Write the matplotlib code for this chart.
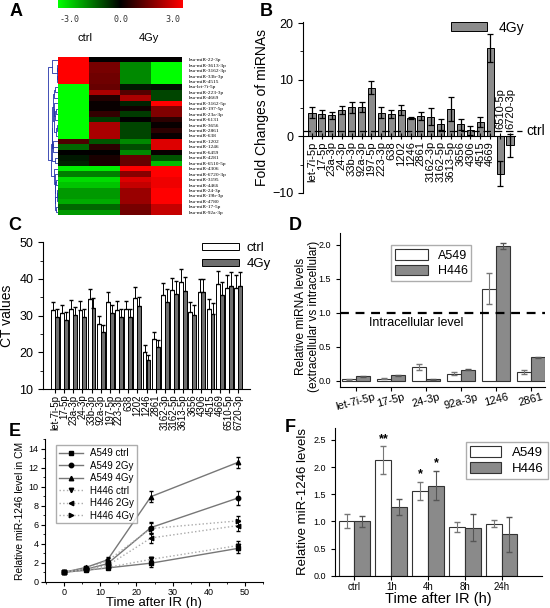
import numpy as np
import matplotlib
matplotlib.use("Agg")
import matplotlib.pyplot as plt
from matplotlib.colors import LinearSegmentedColormap
from matplotlib.lines import Line2D
from matplotlib.ticker import MultipleLocator

plt.rcParams['font.family'] = ['Liberation Sans', 'DejaVu Sans']

# ---------------- data ----------------
# A: heatmap (log2 fold, columns: ctrl, ctrl, 4Gy, 4Gy)
heat_rows = ['hsa-miR-22-3p', 'hsa-miR-3613-3p', 'hsa-miR-3162-3p', 'hsa-miR-33b-3p',
             'hsa-miR-4515', 'hsa-let-7i-5p', 'hsa-miR-223-3p', 'hsa-miR-4669',
             'hsa-miR-3162-5p', 'hsa-miR-197-5p', 'hsa-miR-23a-3p', 'hsa-miR-6131',
             'hsa-miR-3656', 'hsa-miR-2861', 'hsa-miR-638', 'hsa-miR-1202',
             'hsa-miR-1246', 'hsa-miR-6459', 'hsa-miR-4281', 'hsa-miR-6510-5p',
             'hsa-miR-4306', 'hsa-miR-6720-3p', 'hsa-miR-3195', 'hsa-miR-4466',
             'hsa-miR-24-3p', 'hsa-miR-19b-3p', 'hsa-miR-4780', 'hsa-miR-17-5p',
             'hsa-miR-92a-3p']
heat_vals = np.array([
    [3.0, 0.0, 0.0, 0.0],
    [3.0, 1.4, -1.6, -3.0],
    [3.0, 1.4, -1.6, -3.0],
    [3.0, 1.3, -1.6, -3.0],
    [3.0, 1.3, -1.6, -3.0],
    [-3.0, 1.2, -0.3, -0.2],
    [-3.0, 2.0, 1.0, -0.8],
    [-3.0, 0.4, 2.0, -0.8],
    [-3.0, 0.1, -0.4, 3.0],
    [-3.0, 0.1, 0.2, 1.5],
    [-3.0, 0.6, -0.7, 1.5],
    [-3.0, -0.7, 0.0, 0.5],
    [-3.0, 2.0, -0.8, 0.1],
    [-3.0, 2.0, -0.8, 0.5],
    [-3.0, 2.0, -0.8, 0.1],
    [0.9, -1.0, -1.6, 2.6],
    [-1.2, 0.5, -0.9, 2.6],
    [0.0, 0.0, -1.6, 0.1],
    [-0.3, 0.3, 1.2, -1.0],
    [-0.4, 0.3, 1.2, -2.2],
    [-2.8, -2.8, 3.0, 3.0],
    [-1.5, -1.5, 1.6, 3.0],
    [-2.6, -2.6, 2.6, 2.8],
    [-2.3, -2.3, 2.3, 2.8],
    [-1.8, -1.8, 1.8, 3.0],
    [-1.8, -1.8, 1.8, 3.0],
    [-2.0, -2.0, 1.8, 3.0],
    [-1.2, -1.2, 1.4, 2.3],
    [-1.8, -1.8, 1.3, 2.3],
])

# B: fold changes (4Gy vs ctrl)
b_labels = ['let-7i-5p', '17-5p', '23a-3p', '24-3p', '33b-3p', '92a-3p', '197-5p',
            '223-3p', '638', '1202', '1246', '2861', '3162-3p', '3162-5p', '3613-5p',
            '3656', '4306', '4515', '4669', '6510-5p', '6720-3p']
b_vals = [4.2, 3.9, 3.7, 4.6, 5.1, 5.2, 8.6, 4.2, 3.9, 4.7, 3.2, 3.6, 3.5, 2.1, 4.8,
          2.1, 1.1, 2.6, 15.6, -6.6, -1.6]
b_err = [0.9, 0.7, 0.6, 0.7, 1.0, 0.9, 1.2, 0.9, 0.7, 0.9, 0.2, 0.7, 1.5, 1.0, 2.1,
         0.9, 0.8, 0.9, 2.5, 2.2, 2.0]

# C: CT values
c_labels = b_labels
c_ctrl = [31.5, 30.6, 31.8, 31.5, 34.5, 27.7, 33.7, 31.5, 31.7, 34.9, 20.2, 23.5,
          35.6, 37.0, 39.1, 31.0, 36.5, 31.8, 38.5, 37.5, 37.6]
c_4gy = [29.7, 28.9, 30.2, 29.5, 32.2, 25.5, 30.6, 29.5, 29.5, 32.6, 17.8, 21.5,
         33.8, 35.8, 36.8, 30.1, 36.4, 30.4, 35.6, 38.2, 38.2]
c_err_ctrl = [2.3, 2.2, 2.4, 2.4, 2.8, 2.2, 2.7, 2.5, 2.4, 2.8, 1.7, 2.0,
              3.2, 3.4, 3.6, 2.8, 3.4, 2.8, 3.6, 3.6, 3.5]
c_err_4gy = [2.2, 2.0, 2.2, 2.2, 2.6, 2.0, 2.4, 2.3, 2.3, 2.5, 1.6, 1.8,
             3.4, 3.6, 3.8, 2.8, 3.6, 3.0, 3.6, 3.8, 3.8]

# D: extracellular / intracellular
d_labels = ['let-7i-5p', '17-5p', '24-3p', '92a-3p', '1246', '2861']
d_a549 = [0.02, 0.03, 0.20, 0.10, 1.35, 0.12]
d_a549_err = [0.01, 0.01, 0.04, 0.02, 0.23, 0.03]
d_h446 = [0.06, 0.075, 0.02, 0.16, 1.98, 0.34]
d_h446_err = [0.005, 0.005, 0.005, 0.005, 0.05, 0.01]

# E: time course
e_time = [0, 6, 12, 24, 48]
e_series = {
    'A549 ctrl': [1.0, 1.2, 1.45, 1.95, 3.5],
    'A549 2Gy': [1.0, 1.3, 1.9, 5.7, 8.8],
    'A549 4Gy': [1.0, 1.5, 2.3, 8.95, 12.55],
    'H446 ctrl': [1.0, 1.2, 1.5, 2.35, 3.8],
    'H446 2Gy': [1.0, 1.3, 1.7, 4.6, 5.9],
    'H446 4Gy': [1.0, 1.4, 2.2, 5.6, 6.4],
}
e_errs = {
    'A549 ctrl': [0.05, 0.1, 0.15, 0.35, 0.5],
    'A549 2Gy': [0.05, 0.15, 0.2, 0.6, 0.7],
    'A549 4Gy': [0.05, 0.2, 0.3, 0.55, 0.6],
    'H446 ctrl': [0.05, 0.1, 0.15, 0.3, 0.5],
    'H446 2Gy': [0.05, 0.1, 0.2, 0.5, 0.6],
    'H446 4Gy': [0.05, 0.15, 0.25, 0.6, 0.55],
}

# F: miR-1246 after IR
f_labels = ['ctrl', '1h', '4h', '8h', '24h']
f_a549 = [1.0, 2.13, 1.56, 0.89, 0.96]
f_a549_err = [0.13, 0.25, 0.17, 0.09, 0.06]
f_h446 = [1.0, 1.27, 1.66, 0.88, 0.76]
f_h446_err = [0.1, 0.15, 0.27, 0.25, 0.32]
f_a549_sig = ['', '**', '*', '', '']
f_h446_sig = ['', '', '*', '', '']

W, H = 550, 608
fig = plt.figure(figsize=(W / 100, H / 100), dpi=100)


def box(x0, y0, x1, y1):
    # pixel box -> figure fraction rect
    return [x0 / W, 1 - y1 / H, (x1 - x0) / W, (y1 - y0) / H]


# ---------------- A ----------------
gbr = LinearSegmentedColormap.from_list('gbr', ['#00ff00', '#000000', '#ff0000'])
axA = fig.add_axes(box(58, 57, 182, 215))
axA.imshow(heat_vals, cmap=gbr, vmin=-3, vmax=3, aspect='auto', interpolation='nearest')
axA.set_xticks([])
axA.set_yticks(range(len(heat_rows)))
axA.set_yticklabels(heat_rows, fontsize=3.9, family='Liberation Serif')
axA.yaxis.tick_right()
axA.tick_params(axis='y', length=0, pad=5)
for s in axA.spines.values():
    s.set_visible(False)
axA.text(0.22, 1.1, 'ctrl', transform=axA.transAxes, ha='center', fontsize=8)
axA.text(0.73, 1.1, '4Gy', transform=axA.transAxes, ha='center', fontsize=8)

axCb = fig.add_axes(box(58, 0, 183, 8))
axCb.imshow(np.linspace(-3, 3, 200)[None, :], cmap=gbr, aspect='auto', vmin=-3, vmax=3)
axCb.set_xticks([])
axCb.set_yticks([])
for s in axCb.spines.values():
    s.set_visible(False)
for xf, t in [(0.09, '-3.0'), (0.5, '0.0'), (0.92, '3.0')]:
    axCb.text(xf, -1.4, t, transform=axCb.transAxes, ha='center', va='center',
              fontsize=6, family='DejaVu Sans Mono', color='#333333')

# dendrogram: adjacent merging on the row order
axDen = fig.add_axes(box(47, 57, 58, 215))
clusters = [([i], float(i), 0.0) for i in range(len(heat_vals))]
while len(clusters) > 1:
    d = [np.linalg.norm(heat_vals[a[0]].mean(0) - heat_vals[b[0]].mean(0))
         for a, b in zip(clusters[:-1], clusters[1:])]
    k = int(np.argmin(d))
    a, b = clusters[k], clusters[k + 1]
    h = max(d[k], a[2], b[2]) + 0.3
    axDen.plot([a[2], h, h, b[2]], [a[1], a[1], b[1], b[1]], color='#2233aa', lw=0.6)
    clusters[k:k + 2] = [(a[0] + b[0], (a[1] + b[1]) / 2, h)]
axDen.set_ylim(len(heat_vals) - 0.5, -0.5)
axDen.invert_xaxis()
axDen.axis('off')

# ---------------- B ----------------
axB = fig.add_axes(box(303, 21.9, 515, 193))
xb = np.arange(len(b_vals))
axB.bar(xb, b_vals, width=0.72, color='#8c8c8c', edgecolor='black', lw=0.7,
        yerr=b_err, error_kw=dict(ecolor='black', elinewidth=0.9, capsize=2, capthick=0.9),
        label='4Gy')
axB.set_xlim(-0.91, 20.5)
axB.set_ylim(-10, 20.2)
axB.spines['top'].set_visible(False)
axB.spines['right'].set_visible(False)
axB.spines['bottom'].set_position(('data', 0))
axB.plot([-0.91, 21.2], [1, 1], color='black', lw=0.9, ls=(0, (6, 3)), clip_on=False)
axB.text(21.6, 1, 'ctrl', ha='left', va='center', fontsize=10)
axB.set_xticks(xb)
axB.set_xticklabels(b_labels[:19] + ['', ''], rotation=90, fontsize=8)
for i in (19, 20):
    axB.text(xb[i], 1.3, b_labels[i], rotation=90, ha='center', va='bottom', fontsize=8)
axB.tick_params(axis='x', direction='inout', length=5, pad=1)
axB.yaxis.set_major_locator(MultipleLocator(10))
axB.yaxis.set_minor_locator(MultipleLocator(5))
axB.tick_params(axis='y', labelsize=9)
axB.set_ylabel('Fold Changes of miRNAs', fontsize=10, labelpad=2)
axB.legend(loc='upper left', bbox_to_anchor=(0.64, 1.08), frameon=False, fontsize=10,
           handlelength=2.6, handleheight=0.6)

# ---------------- C ----------------
axC = fig.add_axes(box(43, 242.3, 250, 389))
xc = np.arange(len(c_ctrl))
bw = 0.42
axC.bar(xc - bw / 2, c_ctrl, width=bw, color='white', edgecolor='black', lw=0.7,
        yerr=[np.zeros(len(c_ctrl)), c_err_ctrl],
        error_kw=dict(ecolor='black', elinewidth=0.7, capsize=1.2), label='ctrl')
axC.bar(xc + bw / 2, c_4gy, width=bw, color='#6e6e6e', edgecolor='black', lw=0.7,
        yerr=[np.zeros(len(c_4gy)), c_err_4gy],
        error_kw=dict(ecolor='black', elinewidth=0.7, capsize=1.2), label='4Gy')
axC.set_xlim(-1.3, 21.3)
axC.set_ylim(10, 50)
axC.spines['top'].set_visible(False)
axC.spines['right'].set_visible(False)
axC.set_xticks(xc)
axC.set_xticklabels(c_labels, rotation=90, fontsize=7)
axC.yaxis.set_major_locator(MultipleLocator(10))
axC.yaxis.set_minor_locator(MultipleLocator(5))
axC.tick_params(axis='y', labelsize=9)
axC.tick_params(axis='x', length=3, pad=1)
axC.set_ylabel('CT values', fontsize=10, labelpad=4)
axC.legend(loc='upper left', bbox_to_anchor=(0.71, 1.08), frameon=False, fontsize=9.5,
           handlelength=2.8, handleheight=0.4, labelspacing=0.3, handletextpad=0.6)

# ---------------- D ----------------
axD = fig.add_axes(box(340, 233, 545, 386.7))
xd = np.arange(len(d_labels))
bw = 0.4
axD.bar(xd - bw / 2, d_a549, width=bw, color='white', edgecolor='#333333', lw=0.8,
        yerr=d_a549_err, error_kw=dict(ecolor='#777777', elinewidth=0.8, capsize=2),
        label='A549')
axD.bar(xd + bw / 2, d_h446, width=bw, color='#8a8a8a', edgecolor='#333333', lw=0.8,
        yerr=d_h446_err, error_kw=dict(ecolor='#555555', elinewidth=0.8, capsize=2),
        label='H446')
axD.axhline(1.0, color='black', lw=1.6, ls=(0, (4, 3)), clip_on=False)
axD.text(0.37, 0.85, 'Intracellular level', fontsize=9, ha='left', va='center')
axD.set_xlim(-0.45, 5.4)
axD.set_ylim(-0.09, 2.17)
axD.spines['top'].set_visible(False)
axD.spines['right'].set_visible(False)
axD.set_xticks(xd)
axD.set_xticklabels(d_labels, rotation=15, fontsize=8)
axD.yaxis.set_major_locator(MultipleLocator(0.5))
axD.tick_params(axis='y', labelsize=6.5, length=3)
axD.tick_params(axis='x', length=3, pad=1)
axD.set_ylabel('Relative miRNA levels\n(extracellular vs intracellular)', fontsize=8.6,
               linespacing=1.1)
axD.yaxis.set_label_coords(-0.1, 0.46)
axD.legend(loc='upper left', bbox_to_anchor=(0.22, 0.96), fontsize=9, fancybox=False,
           edgecolor='#999999', handlelength=2.6, handleheight=0.9, borderpad=0.3,
           labelspacing=0.25)

# ---------------- E ----------------
axE = fig.add_axes(box(45, 439.2, 263, 581.7))
markers = ['s', 'o', '^', 'v', '<', '>']
for (name, vals), mk in zip(e_series.items(), markers):
    a549 = name.startswith('A549')
    axE.errorbar(e_time, vals, yerr=e_errs[name], marker=mk, ms=3.2, color='black',
                 mfc='black', mec='black', lw=0, elinewidth=0.7, capsize=1.5, zorder=3)
    axE.plot(e_time, vals, color='#777777' if a549 else '#aaaaaa',
             ls='-' if a549 else ':', lw=1.0, zorder=2)
handles = [Line2D([0], [0], color='#777777' if n.startswith('A549') else '#aaaaaa',
                  ls='-' if n.startswith('A549') else ':', marker=m, ms=3.2,
                  mfc='black', mec='black', lw=1.0) for n, m in zip(e_series, markers)]
axE.legend(handles, list(e_series), loc='upper left', bbox_to_anchor=(0.03, 0.99),
           fontsize=7, fancybox=False, edgecolor='#999999', handlelength=2.4,
           labelspacing=0.25, borderpad=0.3)
axE.set_xlim(-5.3, 55)
axE.set_ylim(0, 15)
axE.spines['top'].set_visible(False)
axE.spines['right'].set_visible(False)
axE.xaxis.set_major_locator(MultipleLocator(10))
axE.xaxis.set_minor_locator(MultipleLocator(5))
axE.yaxis.set_major_locator(MultipleLocator(2))
axE.yaxis.set_minor_locator(MultipleLocator(1))
axE.tick_params(labelsize=6.5, length=3, pad=1.5)
axE.tick_params(which='minor', length=1.5)
axE.set_xlabel('Time after IR (h)', fontsize=9.5, labelpad=0)
axE.set_ylabel('Relative miR-1246 level in CM', fontsize=7.4, labelpad=3)

# ---------------- F ----------------
axF = fig.add_axes(box(335, 428, 542, 575.7))
xf = np.arange(len(f_labels))
bw = 0.43
axF.bar(xf - bw / 2, f_a549, width=bw, color='white', edgecolor='#333333', lw=0.8,
        yerr=f_a549_err, error_kw=dict(ecolor='#777777', elinewidth=0.8, capsize=2),
        label='A549')
axF.bar(xf + bw / 2, f_h446, width=bw, color='#8a8a8a', edgecolor='#333333', lw=0.8,
        yerr=f_h446_err, error_kw=dict(ecolor='#555555', elinewidth=0.8, capsize=2),
        label='H446')
for i in range(len(f_labels)):
    if f_a549_sig[i]:
        axF.text(xf[i] - bw / 2, f_a549[i] + f_a549_err[i] + 0.03, f_a549_sig[i],
                 ha='center', va='bottom', fontsize=9, fontweight='bold')
    if f_h446_sig[i]:
        axF.text(xf[i] + bw / 2, f_h446[i] + f_h446_err[i] + 0.03, f_h446_sig[i],
                 ha='center', va='bottom', fontsize=9, fontweight='bold')
axF.set_xlim(-0.53, 5.1)
axF.set_ylim(0, 2.72)
axF.spines['top'].set_visible(False)
axF.spines['right'].set_visible(False)
axF.set_xticks(xf)
axF.set_xticklabels(f_labels, fontsize=7)
axF.yaxis.set_major_locator(MultipleLocator(0.5))
axF.tick_params(axis='y', labelsize=6.5, length=3)
axF.tick_params(axis='x', length=3, pad=1.5)
axF.set_xlabel('Time after IR (h)', fontsize=10.5, labelpad=0)
axF.set_ylabel('Relative miR-1246 levels', fontsize=9.5, labelpad=3)
axF.legend(loc='upper left', bbox_to_anchor=(0.6, 0.95), fontsize=9.5, fancybox=False,
           edgecolor='#999999', handlelength=2.4, handleheight=0.9, borderpad=0.3,
           labelspacing=0.25)

# panel letters
for t, x, y in [('A', 16, 12), ('B', 266, 12), ('C', 15, 226), ('D', 295, 225),
                ('E', 15, 432), ('F', 290, 428)]:
    fig.text(x / W, 1 - y / H, t, fontsize=13, fontweight='bold', ha='center', va='center')

fig.savefig('out.png', dpi=100)
